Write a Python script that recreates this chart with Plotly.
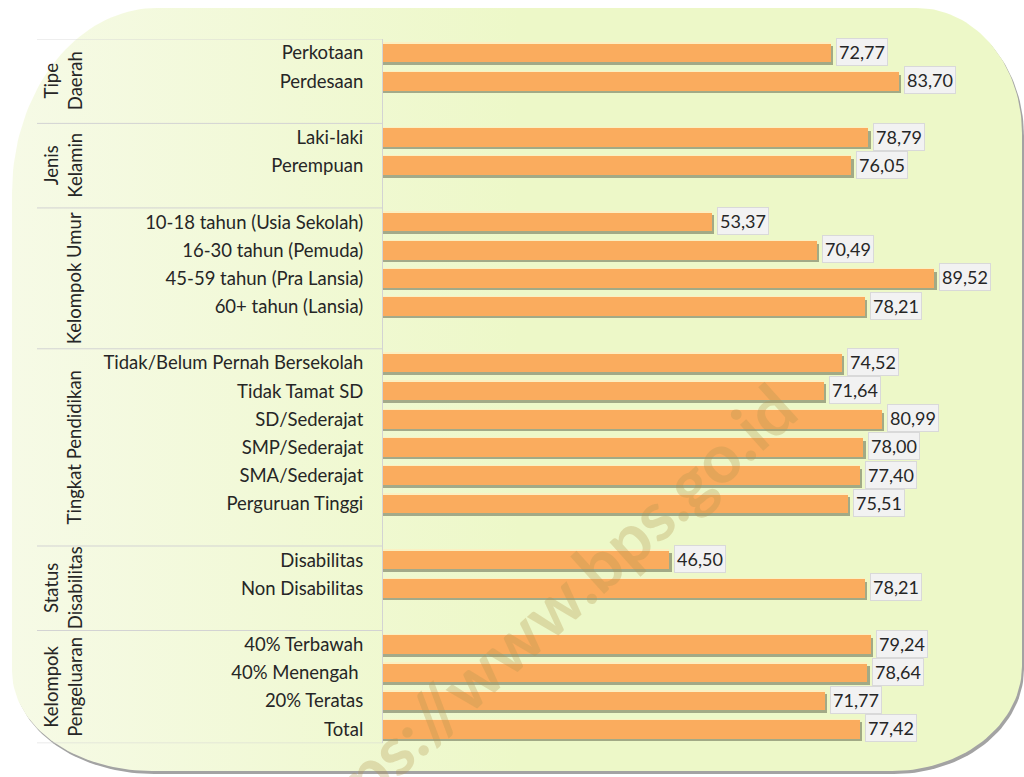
import numpy as np
import plotly.graph_objects as go

# ---- data -----------------------------------------------------------------
group_labels = ["Tipe<br>Daerah", "Jenis<br>Kelamin", "Kelompok Umur",
                "Tingkat Pendidikan", "Status<br>Disabilitas", "Kelompok<br>Pengeluaran"]
group_sizes = [2, 2, 4, 6, 2, 4]

categories = [
    "Perkotaan", "Perdesaan",
    "Laki-laki", "Perempuan",
    "10-18 tahun (Usia Sekolah)", "16-30 tahun (Pemuda)",
    "45-59 tahun (Pra Lansia)", "60+ tahun (Lansia)",
    "Tidak/Belum Pernah Bersekolah", "Tidak Tamat SD", "SD/Sederajat",
    "SMP/Sederajat", "SMA/Sederajat", "Perguruan Tinggi",
    "Disabilitas", "Non Disabilitas",
    "40% Terbawah", "40% Menengah\u00a0", "20% Teratas", "Total",
]
values = [
    72.77, 83.70,
    78.79, 76.05,
    53.37, 70.49, 89.52, 78.21,
    74.52, 71.64, 80.99, 78.00, 77.40, 75.51,
    46.50, 78.21,
    79.24, 78.64, 71.77, 77.42,
]

# ---- layout constants (pixels on a 1024 x 777 canvas) ----------------------
W, H = 1024, 777
FONT = "Lato"
TXT = "#262626"
BAR = "#FAAC5E"

# slot positions: one blank slot after every group except the last
slots, bounds = [], []
s = 0
for gi, n in enumerate(group_sizes):
    start = s
    for _ in range(n):
        slots.append(s)
        s += 1
    if gi < len(group_sizes) - 1:
        s += 1
    bounds.append((start - 0.5, s - 0.5))
n_slots = s

# ---- rounded background panel -------------------------------------------
def corner(cx, cy, rx, ry, a0, a1, n=40):
    t = np.linspace(a0, a1, n)
    return cx + rx * np.cos(t), cy + ry * np.sin(t)

def panel(x0, y0, x1, y1, tl, tr, br, bl):
    xs, ys = [], []
    for (cx, cy, r, a0, a1) in [
        (x0 + tl[0], y0 + tl[1], tl, np.pi, 1.5 * np.pi),
        (x1 - tr[0], y0 + tr[1], tr, 1.5 * np.pi, 2 * np.pi),
        (x1 - br[0], y1 - br[1], br, 0, 0.5 * np.pi),
        (x0 + bl[0], y1 - bl[1], bl, 0.5 * np.pi, np.pi),
    ]:
        px, py = corner(cx, cy, r[0], r[1], a0, a1)
        xs.extend(px)
        ys.extend(py)
    xs.append(xs[0])
    ys.append(ys[0])
    return np.array(xs), np.array(ys)

radii = dict(tl=(145, 185), tr=(105, 125), br=(130, 105), bl=(140, 100))
px, py = panel(12, 8, 1022, 771, **radii)

fig = go.Figure()

# drop shadow of the panel
fig.add_trace(go.Scatter(x=px + 2, y=py + 3, fill="toself", mode="lines",
                         line=dict(width=0), fillcolor="#A3A3A3",
                         hoverinfo="skip", showlegend=False, xaxis="x", yaxis="y"))
# panel body with a soft horizontal gradient
fig.add_trace(go.Scatter(x=px, y=py, fill="toself", mode="lines",
                         line=dict(width=0),
                         fillgradient=dict(type="horizontal",
                                           colorscale=[[0, "#F6FAE6"], [1, "#EDF8C8"]],
                                           start=12, stop=520),
                         hoverinfo="skip", showlegend=False, xaxis="x", yaxis="y"))

# ---- bars ---------------------------------------------------------------
BW = 0.66
vals = np.array(values)
# pale highlight along the top edge
fig.add_trace(go.Bar(x=vals, y=slots, orientation="h", width=BW, offset=-BW / 2 - 0.05,
                     marker=dict(color="#FBF0C2", line=dict(width=0)),
                     hoverinfo="skip", showlegend=False, xaxis="x2", yaxis="y2"))
# shadow below/right of each bar
fig.add_trace(go.Bar(x=vals + 0.35, y=slots, orientation="h", width=BW, offset=-BW / 2 + 0.09,
                     marker=dict(color="rgba(100,105,80,0.55)", line=dict(width=0)),
                     hoverinfo="skip", showlegend=False, xaxis="x2", yaxis="y2"))
# main bars
fig.add_trace(go.Bar(x=vals, y=slots, orientation="h", width=BW, offset=-BW / 2,
                     marker=dict(color=BAR, line=dict(width=0)),
                     showlegend=False, xaxis="x2", yaxis="y2"))

# ---- annotations ----------------------------------------------------------
ann = []
for v, yv in zip(values, slots):
    ann.append(dict(x=v, y=yv, xref="x2", yref="y2", xanchor="left", yanchor="middle",
                    xshift=5, yshift=1, showarrow=False,
                    text=f"{v:.2f}".replace(".", ","),
                    font=dict(family=FONT, size=18, color=TXT),
                    bgcolor="#F2F2F2", bordercolor="#D9D9D9", borderwidth=1, borderpad=2))

shapes = []
edges = sorted({b for pair in bounds for b in pair})
for e in edges:
    shapes.append(dict(type="line", xref="paper", yref="y2", x0=37 / W, x1=383 / W,
                       y0=e, y1=e, line=dict(color="#D3D3D3", width=1)))

for lab, (b0, b1) in zip(group_labels, bounds):
    xc = 63 if "<br>" in lab else 74
    ann.append(dict(x=xc / W, y=(b0 + b1) / 2, xref="paper", yref="y2",
                    xanchor="center", yanchor="middle", showarrow=False, textangle=-90,
                    text=lab, align="center",
                    font=dict(family=FONT, size=18.5, color=TXT)))

# watermark
ann.append(dict(x=535 / W, y=1 - 620 / H, xref="paper", yref="paper", showarrow=False,
                xanchor="center", yanchor="middle",
                text="https://www.bps.go.id", textangle=-42,
                font=dict(family=FONT, size=68, weight="bold", color="rgba(180,150,80,0.30)")))

fig.update_layout(
    width=W, height=H, autosize=False,
    margin=dict(l=0, r=0, t=0, b=0),
    paper_bgcolor="white", plot_bgcolor="rgba(0,0,0,0)",
    barmode="overlay", bargap=0,
    showlegend=False,
    xaxis=dict(domain=[0, 1], range=[0, W], visible=False, fixedrange=True),
    yaxis=dict(domain=[0, 1], range=[H, 0], visible=False, fixedrange=True),
    xaxis2=dict(domain=[383 / W, 999 / W], range=[0, 100], anchor="y2",
                visible=False, automargin=False),
    yaxis2=dict(domain=[1 - 743.2 / H, 1 - 38.9 / H], range=[n_slots - 0.5, -0.5],
                anchor="x2", tickmode="array", tickvals=slots, ticktext=categories,
                showline=True, linecolor="#D3D3D3", linewidth=1,
                showgrid=False, zeroline=False, ticks="", ticklabelstandoff=15,
                tickfont=dict(family=FONT, size=18.5, color=TXT), automargin=False),
    shapes=shapes,
    annotations=ann,
)

fig.write_html("out.html")
